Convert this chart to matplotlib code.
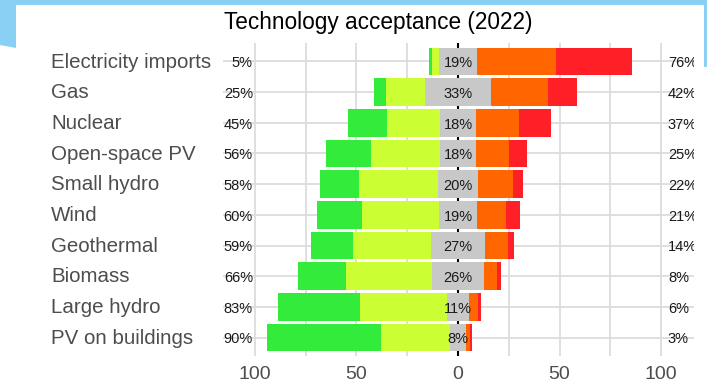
import numpy as np
import matplotlib.pyplot as plt
import matplotlib.transforms as mtransforms
from matplotlib.patches import Polygon

plt.rcParams['font.family'] = ['Liberation Sans', 'DejaVu Sans']

categories = ["Electricity imports", "Gas", "Nuclear", "Open-space PV", "Small hydro",
              "Wind", "Geothermal", "Biomass", "Large hydro", "PV on buildings"]
strong_accept = [1.5, 6, 19, 22, 19, 22, 21, 24, 40, 56]
rather_accept = [3.5, 19, 26, 34, 39, 38, 38, 42, 43, 34]
neutral = [19, 33, 18, 18, 20, 19, 27, 26, 11, 8]
rather_reject = [39, 28, 21, 16, 17, 14, 11, 6, 4.5, 2]
strong_reject = [37, 14, 16, 9, 5, 7, 3, 2, 1.5, 1]

tick_vals = [-100, -50, 0, 50, 100]
tick_labels = ["100", "50", "0", "50", "100"]

colors = ['#33EB3A', '#CCFF33', '#C8C8C8', '#FF6600', '#FF1F26']

W, H = 707, 384
fig = plt.figure(figsize=(W / 100, H / 100), dpi=100)


def px(x, y):
    return (x / W, 1 - y / H)


# slide decoration in the corner
for pts in ([(0, 0), (W, 0), (W, 5), (0, 5)],
            [(0, 0), (16, 0), (16, 48), (0, 45)],
            [(704, 0), (W, 0), (W, 67), (704, 67)]):
    fig.patches.append(Polygon([px(*p) for p in pts], closed=True,
                               transform=fig.transFigure, color='#8AD0F5', lw=0))

ax = fig.add_axes([222.5 / W, 1 - 356 / H, 471 / W, 313 / H])

y = np.arange(len(categories))
sa = np.array(strong_accept)
ra = np.array(rather_accept)
nu = np.array(neutral)
rr = np.array(rather_reject)
sr = np.array(strong_reject)

lefts = [-nu / 2 - ra - sa, -nu / 2 - ra, -nu / 2, nu / 2, nu / 2 + rr]
widths = [sa, ra, nu, rr, sr]
for left, width, c in zip(lefts, widths, colors):
    ax.barh(y, width, left=left, height=0.9, color=c, edgecolor='none', zorder=3)

ax.axvline(0, color='black', lw=1.5, zorder=2)

acc_total = sa + ra
rej_total = rr + sr
off = 0.19  # baseline offset below the row centre
for i in y:
    ax.text(0, i + off, f"{nu[i]:.0f}%", ha='center', va='baseline', fontsize=10.5,
            color='#1A1A1A', zorder=4)
    ax.text(-101, i + off, f"{acc_total[i]:.0f}%", ha='right', va='baseline',
            fontsize=10.5, color='#1A1A1A', zorder=4)
    ax.text(103.4, i + off, f"{rej_total[i]:.0f}%", ha='left', va='baseline',
            fontsize=10.5, color='#1A1A1A', zorder=4, clip_on=True)

trans = mtransforms.blended_transform_factory(fig.transFigure, ax.transData)
for i, name in enumerate(categories):
    ax.text(51 / W, i + 0.2, name, transform=trans, ha='left', va='baseline',
            fontsize=14.8, color='#4D4D4D')

ax.set_xlim(-116, 116)
ax.set_ylim(len(categories) - 0.4, -0.6)
ax.set_xticks(tick_vals)
ax.set_xticklabels(tick_labels, fontsize=14, color='#4D4D4D')
ax.set_xticks([-75, -25, 25, 75], minor=True)
ax.set_yticks(y)
ax.set_yticklabels([])
ax.tick_params(which='both', length=0, pad=7.5)
ax.grid(which='both', color='#DCDCDC', lw=1.3)
ax.set_axisbelow(True)
for s in ax.spines.values():
    s.set_visible(False)

fig.text(378.5 / W, 1 - 29.3 / H, "Technology acceptance (2022)", ha='center',
         va='baseline', fontsize=16.3, color='black')

fig.savefig('out.png', dpi=100)
